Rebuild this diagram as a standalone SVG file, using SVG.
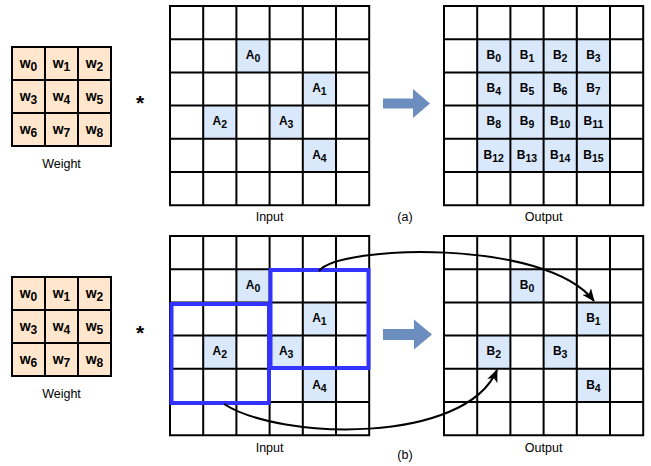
<svg xmlns="http://www.w3.org/2000/svg" width="651" height="466" viewBox="0 0 651 466">
  <style>
    .bg { fill: #ffffff; }
    .wcell { fill: #ffe6cc; }
    .hl { fill: #dae8fc; }
    .grid { fill: none; stroke: #000000; stroke-width: 2; }
    .lbl { font-family: "Liberation Sans", Arial, sans-serif; font-size: 12.5px; fill: #000000; text-anchor: middle; }
    .cell { font-family: "Liberation Sans", Arial, sans-serif; font-size: 12px; font-weight: bold; fill: #000000; text-anchor: middle; }
    .w { font-family: "Liberation Sans", Arial, sans-serif; font-size: 14px; font-weight: bold; fill: #000000; text-anchor: middle; }
    .sub { font-size: 10.5px; }
    .wsub { font-size: 12px; }
    .star { font-family: "Liberation Sans", Arial, sans-serif; font-size: 21px; font-weight: bold; fill: #000000; text-anchor: middle; }
    .win { fill: none; stroke: #3333ff; stroke-width: 4; }
    .flow { fill: #6c8ebf; }
    .conn { fill: none; stroke: #000000; stroke-width: 2; }
  </style>
  <defs>
    <marker id="arrow" viewBox="0 0 13 11" refX="12" refY="5.5" markerWidth="13" markerHeight="11" markerUnits="userSpaceOnUse" orient="auto">
      <path d="M0,0 L13,5.5 L0,11 L3.5,5.5 Z" fill="#000000"/>
    </marker>
    <!-- 3x3 weight grid lines, cell 33 -->
    <path id="wgrid" class="grid" d="M0,0 H99 V99 H0 Z M33,0 V99 M66,0 V99 M0,33 H99 M0,66 H99"/>
    <!-- 6x6 feature-map grid lines, cell 33.2 -->
    <path id="fgrid" class="grid" d="M0,0 H199.2 V199.2 H0 Z M33.2,0 V199.2 M66.4,0 V199.2 M99.6,0 V199.2 M132.8,0 V199.2 M166,0 V199.2 M0,33.2 H199.2 M0,66.4 H199.2 M0,99.6 H199.2 M0,132.8 H199.2 M0,166 H199.2"/>
  </defs>

  <rect class="bg" x="0" y="0" width="651" height="466"/>

  <!-- ===== (a) ===== -->
  <g id="weight-a" transform="translate(12,47)">
    <rect class="wcell" x="0" y="0" width="99" height="99"/>
    <text class="w" x="16.5" y="21">w<tspan class="wsub" dy="2.6">0</tspan></text>
    <text class="w" x="49.5" y="21">w<tspan class="wsub" dy="2.6">1</tspan></text>
    <text class="w" x="82.5" y="21">w<tspan class="wsub" dy="2.6">2</tspan></text>
    <text class="w" x="16.5" y="54">w<tspan class="wsub" dy="2.6">3</tspan></text>
    <text class="w" x="49.5" y="54">w<tspan class="wsub" dy="2.6">4</tspan></text>
    <text class="w" x="82.5" y="54">w<tspan class="wsub" dy="2.6">5</tspan></text>
    <text class="w" x="16.5" y="87">w<tspan class="wsub" dy="2.6">6</tspan></text>
    <text class="w" x="49.5" y="87">w<tspan class="wsub" dy="2.6">7</tspan></text>
    <text class="w" x="82.5" y="87">w<tspan class="wsub" dy="2.6">8</tspan></text>
    <use href="#wgrid"/>
    <text class="lbl" x="49.5" y="120.5">Weight</text>
  </g>

  <text class="star" x="140" y="110">*</text>

  <g id="input-a" transform="translate(170,6)">
    <rect class="bg" x="0" y="0" width="199.2" height="199.2"/>
    <rect class="hl" x="66.4" y="33.2" width="33.2" height="33.2"/>
    <rect class="hl" x="132.8" y="66.4" width="33.2" height="33.2"/>
    <rect class="hl" x="33.2" y="99.6" width="33.2" height="33.2"/>
    <rect class="hl" x="99.6" y="99.6" width="33.2" height="33.2"/>
    <rect class="hl" x="132.8" y="132.8" width="33.2" height="33.2"/>
    <text class="cell" x="83" y="53">A<tspan class="sub" dy="3">0</tspan></text>
    <text class="cell" x="149.4" y="86.2">A<tspan class="sub" dy="3">1</tspan></text>
    <text class="cell" x="49.8" y="119.4">A<tspan class="sub" dy="3">2</tspan></text>
    <text class="cell" x="116.2" y="119.4">A<tspan class="sub" dy="3">3</tspan></text>
    <text class="cell" x="149.4" y="152.6">A<tspan class="sub" dy="3">4</tspan></text>
    <use href="#fgrid"/>
    <text class="lbl" x="99.6" y="215">Input</text>
  </g>

  <text class="lbl" x="405" y="221">(a)</text>

  <path id="flow-a" class="flow" d="M383,98.5 H413 V89 L430,103.5 L413,118 V108.5 H383 Z"/>

  <g id="output-a" transform="translate(444,6)">
    <rect class="bg" x="0" y="0" width="199.2" height="199.2"/>
    <rect class="hl" x="33.2" y="33.2" width="132.8" height="132.8"/>
    <text class="cell" x="49.8" y="53">B<tspan class="sub" dy="3">0</tspan></text>
    <text class="cell" x="83" y="53">B<tspan class="sub" dy="3">1</tspan></text>
    <text class="cell" x="116.2" y="53">B<tspan class="sub" dy="3">2</tspan></text>
    <text class="cell" x="149.4" y="53">B<tspan class="sub" dy="3">3</tspan></text>
    <text class="cell" x="49.8" y="86.2">B<tspan class="sub" dy="3">4</tspan></text>
    <text class="cell" x="83" y="86.2">B<tspan class="sub" dy="3">5</tspan></text>
    <text class="cell" x="116.2" y="86.2">B<tspan class="sub" dy="3">6</tspan></text>
    <text class="cell" x="149.4" y="86.2">B<tspan class="sub" dy="3">7</tspan></text>
    <text class="cell" x="49.8" y="119.4">B<tspan class="sub" dy="3">8</tspan></text>
    <text class="cell" x="83" y="119.4">B<tspan class="sub" dy="3">9</tspan></text>
    <text class="cell" x="116.2" y="119.4">B<tspan class="sub" dy="3">10</tspan></text>
    <text class="cell" x="149.4" y="119.4">B<tspan class="sub" dy="3">11</tspan></text>
    <text class="cell" x="49.8" y="152.6">B<tspan class="sub" dy="3">12</tspan></text>
    <text class="cell" x="83" y="152.6">B<tspan class="sub" dy="3">13</tspan></text>
    <text class="cell" x="116.2" y="152.6">B<tspan class="sub" dy="3">14</tspan></text>
    <text class="cell" x="149.4" y="152.6">B<tspan class="sub" dy="3">15</tspan></text>
    <use href="#fgrid"/>
    <text class="lbl" x="99.6" y="215">Output</text>
  </g>

  <!-- ===== (b) ===== -->
  <g id="weight-b" transform="translate(12,277)">
    <rect class="wcell" x="0" y="0" width="99" height="99"/>
    <text class="w" x="16.5" y="21">w<tspan class="wsub" dy="2.6">0</tspan></text>
    <text class="w" x="49.5" y="21">w<tspan class="wsub" dy="2.6">1</tspan></text>
    <text class="w" x="82.5" y="21">w<tspan class="wsub" dy="2.6">2</tspan></text>
    <text class="w" x="16.5" y="54">w<tspan class="wsub" dy="2.6">3</tspan></text>
    <text class="w" x="49.5" y="54">w<tspan class="wsub" dy="2.6">4</tspan></text>
    <text class="w" x="82.5" y="54">w<tspan class="wsub" dy="2.6">5</tspan></text>
    <text class="w" x="16.5" y="87">w<tspan class="wsub" dy="2.6">6</tspan></text>
    <text class="w" x="49.5" y="87">w<tspan class="wsub" dy="2.6">7</tspan></text>
    <text class="w" x="82.5" y="87">w<tspan class="wsub" dy="2.6">8</tspan></text>
    <use href="#wgrid"/>
    <text class="lbl" x="49.5" y="120.5">Weight</text>
  </g>

  <text class="star" x="140" y="340">*</text>

  <g id="input-b" transform="translate(170,236)">
    <rect class="bg" x="0" y="0" width="199.2" height="199.2"/>
    <rect class="hl" x="66.4" y="33.2" width="33.2" height="33.2"/>
    <rect class="hl" x="132.8" y="66.4" width="33.2" height="33.2"/>
    <rect class="hl" x="33.2" y="99.6" width="33.2" height="33.2"/>
    <rect class="hl" x="99.6" y="99.6" width="33.2" height="33.2"/>
    <rect class="hl" x="132.8" y="132.8" width="33.2" height="33.2"/>
    <text class="cell" x="83" y="53">A<tspan class="sub" dy="3">0</tspan></text>
    <text class="cell" x="149.4" y="86.2">A<tspan class="sub" dy="3">1</tspan></text>
    <text class="cell" x="49.8" y="119.4">A<tspan class="sub" dy="3">2</tspan></text>
    <text class="cell" x="116.2" y="119.4">A<tspan class="sub" dy="3">3</tspan></text>
    <text class="cell" x="149.4" y="152.6">A<tspan class="sub" dy="3">4</tspan></text>
    <use href="#fgrid"/>
    <text class="lbl" x="99.6" y="216">Input</text>
  </g>

  <!-- sliding windows -->
  <g id="windows">
    <rect class="win" x="171.5" y="304" width="97.5" height="99"/>
    <rect class="win" x="270.5" y="270" width="98" height="98"/>
  </g>

  <text class="lbl" x="405" y="459">(b)</text>

  <path id="flow-b" class="flow" d="M383,329 H414 V319.5 L432,334.5 L414,349.5 V340 H383 Z"/>

  <g id="output-b" transform="translate(444,236)">
    <rect class="bg" x="0" y="0" width="199.2" height="199.2"/>
    <rect class="hl" x="66.4" y="33.2" width="33.2" height="33.2"/>
    <rect class="hl" x="132.8" y="66.4" width="33.2" height="33.2"/>
    <rect class="hl" x="33.2" y="99.6" width="33.2" height="33.2"/>
    <rect class="hl" x="99.6" y="99.6" width="33.2" height="33.2"/>
    <rect class="hl" x="132.8" y="132.8" width="33.2" height="33.2"/>
    <text class="cell" x="83" y="53">B<tspan class="sub" dy="3">0</tspan></text>
    <text class="cell" x="149.4" y="86.2">B<tspan class="sub" dy="3">1</tspan></text>
    <text class="cell" x="49.8" y="119.4">B<tspan class="sub" dy="3">2</tspan></text>
    <text class="cell" x="116.2" y="119.4">B<tspan class="sub" dy="3">3</tspan></text>
    <text class="cell" x="149.4" y="152.6">B<tspan class="sub" dy="3">4</tspan></text>
    <use href="#fgrid"/>
    <text class="lbl" x="99.6" y="216">Output</text>
  </g>

  <!-- window-to-output connectors -->
  <g id="connectors">
    <path class="conn" d="M319,271 C340,245 545,238 594,301" marker-end="url(#arrow)"/>
    <path class="conn" d="M224,404 C280,440 465,445 497,370" marker-end="url(#arrow)"/>
  </g>
</svg>
